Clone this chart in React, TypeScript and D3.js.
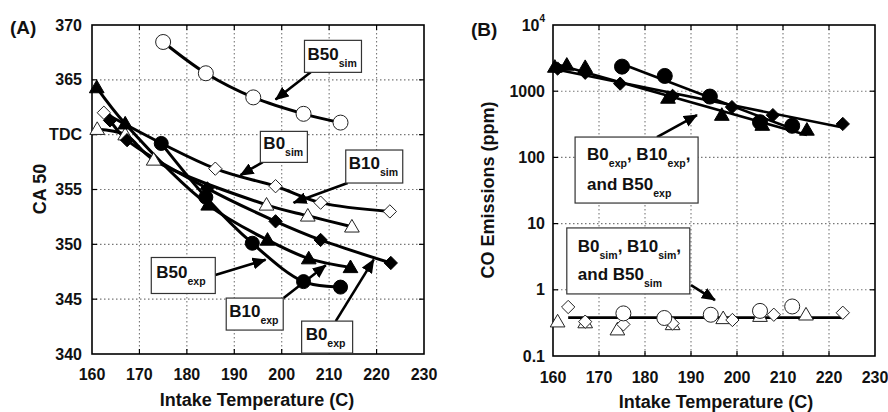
import React from "react";
import * as d3 from "d3";

// ---------- ticks ----------
const xTicks = [160, 170, 180, 190, 200, 210, 220, 230];
const yTicksA = [340, 345, 350, 355, 360, 365, 370];
const yTickLabelsA = ["340", "345", "350", "355", "TDC", "365", "370"];
const yTicksB = [0.1, 1, 10, 100, 1000, 10000];
const yTickLabelsB = ["0.1", "1", "10", "100", "1000", "10|4"];

// ---------- Panel A : CA50 ----------
const tA_B50sim = [175, 184, 194, 204.6, 212.4];
const vA_B50sim = [368.45, 365.6, 363.4, 361.9, 361.1];
const tA_B0sim = [162.5, 186, 198.7, 208.2, 222.8];
const vA_B0sim = [362.0, 356.9, 355.3, 353.8, 353.0];
const tA_B10sim = [161.1, 167, 173, 196.8, 205.5, 214.8];
const vA_B10sim = [360.5, 360.0, 357.7, 353.6, 352.6, 351.6];
const tA_B0exp = [163.8, 167.4, 184.3, 198.7, 208.2, 223];
const vA_B0exp = [361.3, 359.5, 355.1, 352.1, 350.4, 348.3];
const tA_B10exp = [161, 167, 184.5, 197, 205.7, 214.5];
const vA_B10exp = [364.3, 361.0, 353.6, 350.4, 348.7, 347.9];
const tA_B50exp = [174.6, 184, 193.8, 204.6, 212.4];
const vA_B50exp = [359.2, 354.3, 350.1, 346.6, 346.1];

// ---------- Panel B : CO emissions ----------
const tB_B50exp = [175, 184.3, 194.1, 205, 212];
const vB_B50exp = [2350, 1700, 830, 340, 300];
const tB_B0exp = [161, 167, 174.6, 186, 198.9, 207.8, 223];
const vB_B0exp = [2200, 1900, 1300, 850, 575, 435, 320];
const tB_B10exp = [160.4, 163, 167, 185, 196.7, 205.5, 215.2];
const vB_B10exp = [2320, 2490, 2300, 790, 436, 308, 260];
const tB_B50sim = [175.3, 184.2, 194.3, 205, 212];
const vB_B50sim = [0.44, 0.375, 0.42, 0.48, 0.56];
const tB_B0sim = [163.3, 167, 175.3, 186, 199, 208, 223];
const vB_B0sim = [0.55, 0.33, 0.3, 0.31, 0.35, 0.42, 0.45];
const tB_B10sim = [161, 167, 174, 186, 197, 205, 215];
const vB_B10sim = [0.33, 0.32, 0.25, 0.3, 0.37, 0.4, 0.42];

type Shape = "circle" | "diamond" | "triangle";
type Series = { t: number[]; v: number[]; shape: Shape; filled: boolean };

const seriesA: Series[] = [
  { t: tA_B50sim, v: vA_B50sim, shape: "circle", filled: false },
  { t: tA_B0sim, v: vA_B0sim, shape: "diamond", filled: false },
  { t: tA_B10sim, v: vA_B10sim, shape: "triangle", filled: false },
  { t: tA_B0exp, v: vA_B0exp, shape: "diamond", filled: true },
  { t: tA_B10exp, v: vA_B10exp, shape: "triangle", filled: true },
  { t: tA_B50exp, v: vA_B50exp, shape: "circle", filled: true },
];
const seriesBexp: Series[] = [
  { t: tB_B50exp, v: vB_B50exp, shape: "circle", filled: true },
  { t: tB_B0exp, v: vB_B0exp, shape: "diamond", filled: true },
  { t: tB_B10exp, v: vB_B10exp, shape: "triangle", filled: true },
];
const seriesBsim: Series[] = [
  { t: tB_B10sim, v: vB_B10sim, shape: "triangle", filled: false },
  { t: tB_B0sim, v: vB_B0sim, shape: "diamond", filled: false },
  { t: tB_B50sim, v: vB_B50sim, shape: "circle", filled: false },
];

// ---------- annotations (data coordinates) ----------
type Seg = { t: string; sub?: boolean };
type Note = {
  x: number; y: number; w: number; h: number;
  lines: Seg[][]; from: [number, number]; to: [number, number];
  base: number; lineGap: number; pad: number;
};
const notesA: Note[] = [
  { x: 204.8, y: 368.6, w: 57, h: 32, lines: [[{ t: "B50" }, { t: "sim", sub: true }]], from: [206.1, 365.7], to: [198.7, 363.2], base: 20, lineGap: 0, pad: 3 },
  { x: 195.5, y: 360.3, w: 47, h: 31, lines: [[{ t: "B0" }, { t: "sim", sub: true }]], from: [196, 357.5], to: [191.3, 356.3], base: 18, lineGap: 0, pad: 3 },
  { x: 213.5, y: 358.6, w: 57, h: 33, lines: [[{ t: "B10" }, { t: "sim", sub: true }]], from: [213.9, 355.6], to: [202.5, 353.8], base: 19, lineGap: 0, pad: 3 },
  { x: 172.5, y: 348.8, w: 64, h: 36, lines: [[{ t: "B50" }, { t: "exp", sub: true }]], from: [186, 347.2], to: [196.6, 348.6], base: 21, lineGap: 0, pad: 5 },
  { x: 188.3, y: 345.1, w: 57, h: 32, lines: [[{ t: "B10" }, { t: "exp", sub: true }]], from: [200.4, 345.1], to: [209.3, 348.1], base: 19, lineGap: 0, pad: 3 },
  { x: 204.2, y: 343.0, w: 51, h: 32, lines: [[{ t: "B0" }, { t: "exp", sub: true }]], from: [211.4, 343.0], to: [219.4, 348.6], base: 19, lineGap: 0, pad: 4 },
];
const notesB: Note[] = [
  {
    x: 164.8, y: 203, w: 123, h: 66,
    lines: [
      [{ t: "B0" }, { t: "exp", sub: true }, { t: ", B10" }, { t: "exp", sub: true }, { t: "," }],
      [{ t: "and B50" }, { t: "exp", sub: true }],
    ],
    from: [182.6, 203], to: [191.3, 436], base: 23, lineGap: 30, pad: 12,
  },
  {
    x: 163.0, y: 8.6, w: 123, h: 66,
    lines: [
      [{ t: "B0" }, { t: "sim", sub: true }, { t: ", B10" }, { t: "sim", sub: true }, { t: "," }],
      [{ t: "and B50" }, { t: "sim", sub: true }],
    ],
    from: [190, 1.18], to: [195.2, 0.7], base: 24, lineGap: 28, pad: 11,
  },
];

const FONT = "'Liberation Sans', Arial, Helvetica, sans-serif";

function markerPath(shape: Shape, s: number): string {
  if (shape === "circle") return "";
  if (shape === "diamond") return `M0,${-s} L${s},0 L0,${s} L${-s},0 Z`;
  return `M0,${-s * 1.05} L${s * 1.05},${s * 0.75} L${-s * 1.05},${s * 0.75} Z`;
}

function Marker({ x, y, shape, filled, r }: { x: number; y: number; shape: Shape; filled: boolean; r: number }) {
  const fill = filled ? "#000" : "#fff";
  const stroke = filled ? "#000" : "#222";
  if (shape === "circle")
    return <circle cx={x} cy={y} r={r} fill={fill} stroke={stroke} strokeWidth={1} />;
  return <path transform={`translate(${x},${y})`} d={markerPath(shape, shape === "diamond" ? r * 0.95 : r)} fill={fill} stroke={stroke} strokeWidth={1} strokeLinejoin="miter" />;
}

function fitLog(t: number[], v: number[]) {
  const ly = v.map((d) => Math.log10(d));
  const mx = d3.mean(t)!;
  const my = d3.mean(ly)!;
  let num = 0, den = 0;
  t.forEach((x, i) => { num += (x - mx) * (ly[i] - my); den += (x - mx) * (x - mx); });
  const b = num / den;
  return (x: number) => Math.pow(10, my + b * (x - mx));
}

function NoteBox({ n, xs, ys }: { n: Note; xs: (d: number) => number; ys: (d: number) => number }) {
  const bx = xs(n.x), by = ys(n.y);
  return (
    <g>
      <line x1={xs(n.from[0])} y1={ys(n.from[1])} x2={xs(n.to[0])} y2={ys(n.to[1])} stroke="#000" strokeWidth={2.6} markerEnd="url(#arrow)" />
      <rect x={bx} y={by} width={n.w} height={n.h} fill="#fff" stroke="#333" strokeWidth={1.2} />
      {n.lines.map((segs, li) => (
        <text key={li} x={bx + n.pad} y={by + n.base + li * n.lineGap} fontFamily={FONT} fontWeight="bold" fontSize={17} fill="#111">
          {segs.map((s, si) =>
            s.sub ? (
              <tspan key={si} fontSize={10.5} dy={7}>{s.t}</tspan>
            ) : (
              <tspan key={si} fontSize={17} dy={si > 0 && segs[si - 1].sub ? -7 : 0}>{s.t}</tspan>
            )
          )}
        </text>
      ))}
    </g>
  );
}

function Frame({ x0, x1, y0, y1, xs, ys, yTicks }: any) {
  const tick = 5;
  return (
    <g>
      {xTicks.slice(1, -1).map((t) => (
        <line key={"gx" + t} x1={xs(t)} x2={xs(t)} y1={y0} y2={y1} stroke="#777" strokeWidth={1.1} strokeDasharray="1.5,2.5" />
      ))}
      {yTicks.slice(1, -1).map((t: number) => (
        <line key={"gy" + t} x1={x0} x2={x1} y1={ys(t)} y2={ys(t)} stroke="#777" strokeWidth={1.1} strokeDasharray="1.5,2.5" />
      ))}
      {xTicks.slice(1, -1).map((t) => (
        <g key={"tx" + t}>
          <line x1={xs(t)} x2={xs(t)} y1={y1} y2={y1 - tick} stroke="#000" strokeWidth={1.2} />
          <line x1={xs(t)} x2={xs(t)} y1={y0} y2={y0 + tick} stroke="#000" strokeWidth={1.2} />
        </g>
      ))}
      {yTicks.slice(1, -1).map((t: number) => (
        <g key={"ty" + t}>
          <line x1={x0} x2={x0 + tick} y1={ys(t)} y2={ys(t)} stroke="#000" strokeWidth={1.2} />
          <line x1={x1} x2={x1 - tick} y1={ys(t)} y2={ys(t)} stroke="#000" strokeWidth={1.2} />
        </g>
      ))}
      <rect x={x0} y={y0} width={x1 - x0} height={y1 - y0} fill="none" stroke="#000" strokeWidth={1.6} />
    </g>
  );
}

export default function App() {
  // Panel A scales
  const xA = d3.scaleLinear().domain([160, 230]).range([92, 424]);
  const yA = d3.scaleLinear().domain([340, 370]).range([354, 25]);
  // Panel B scales
  const xB = d3.scaleLinear().domain([160, 230]).range([553, 875]);
  const yB = d3.scaleLog().domain([0.1, 10000]).range([356, 25]);

  const lineA = (s: Series) =>
    d3.line<number>().x((d) => xA(d)).y((_, i) => yA(s.v[i])).curve(d3.curveCatmullRom.alpha(0.5))(s.t) || "";

  const simT = [...tB_B10sim, ...tB_B0sim, ...tB_B50sim];
  const simV = [...vB_B10sim, ...vB_B0sim, ...vB_B50sim];
  const simLevel = Math.pow(10, d3.mean(simV.map((d) => Math.log10(d)))!);
  const simRange = [d3.min(tB_B0sim)!, d3.max(simT)!];

  const tickFont = { fontFamily: FONT, fontWeight: "bold" as const, fontSize: 16, fill: "#111" };
  const titleFont = { fontFamily: FONT, fontWeight: "bold" as const, fontSize: 18, fill: "#111" };

  return (
    <svg width={888} height={412} style={{ position: "absolute", left: 0, top: 0, background: "#fff" }}>
      <defs>
        <marker id="arrow" markerUnits="userSpaceOnUse" markerWidth={14} markerHeight={12} refX={13} refY={6} orient="auto">
          <path d="M0,0 L14,6 L0,12 Z" fill="#000" />
        </marker>
      </defs>
      <rect x={0} y={0} width={888} height={412} fill="#fff" />

      {/* ===== Panel A ===== */}
      <Frame x0={92} x1={424} y0={25} y1={354} xs={xA} ys={yA} yTicks={yTicksA} />
      {seriesA.map((s, i) => (
        <path key={"la" + i} d={lineA(s)} fill="none" stroke="#000" strokeWidth={3} />
      ))}
      {seriesA.map((s, i) =>
        s.t.map((t, j) => (
          <Marker key={`ma${i}-${j}`} x={xA(t)} y={yA(s.v[j])} shape={s.shape} filled={s.filled} r={s.shape === "circle" ? (s.filled ? 7 : 7.5) : 7} />
        ))
      )}
      {notesA.map((n, i) => <NoteBox key={"na" + i} n={n} xs={xA} ys={yA} />)}

      {yTicksA.map((t, i) => (
        <text key={"yla" + t} x={82} y={yA(t)} textAnchor="end" dominantBaseline="central" {...tickFont}>{yTickLabelsA[i]}</text>
      ))}
      {xTicks.map((t) => (
        <text key={"xla" + t} x={xA(t)} y={374} textAnchor="middle" dominantBaseline="central" {...tickFont}>{t}</text>
      ))}
      <text x={257} y={400} textAnchor="middle" dominantBaseline="central" {...titleFont}>Intake Temperature (C)</text>
      <text transform={`translate(40,189) rotate(-90)`} textAnchor="middle" dominantBaseline="central" {...titleFont}>CA 50</text>
      <text x={10} y={27} dominantBaseline="central" fontFamily={FONT} fontWeight="bold" fontSize={19} fill="#111">(A)</text>

      {/* ===== Panel B ===== */}
      <Frame x0={553} x1={875} y0={25} y1={356} xs={xB} ys={yB} yTicks={yTicksB} />
      {seriesBexp.map((s, i) => {
        const f = fitLog(s.t, s.v);
        const t0 = d3.min(s.t)!, t1 = d3.max(s.t)!;
        return <line key={"lb" + i} x1={xB(t0)} y1={yB(f(t0))} x2={xB(t1)} y2={yB(f(t1))} stroke="#000" strokeWidth={2.6} />;
      })}
      <line x1={xB(simRange[0])} y1={yB(simLevel)} x2={xB(simRange[1])} y2={yB(simLevel)} stroke="#000" strokeWidth={2.6} />
      {[...seriesBexp, ...seriesBsim].map((s, i) =>
        s.t.map((t, j) => (
          <Marker key={`mb${i}-${j}`} x={xB(t)} y={yB(s.v[j])} shape={s.shape} filled={s.filled} r={s.shape === "circle" ? 7.5 : 7} />
        ))
      )}
      {notesB.map((n, i) => <NoteBox key={"nb" + i} n={n} xs={xB} ys={yB} />)}

      {yTicksB.map((t, i) => {
        const lab = yTickLabelsB[i];
        if (lab.includes("|")) {
          const [b, e] = lab.split("|");
          return (
            <text key={"ylb" + t} x={545} y={yB(t)} textAnchor="end" dominantBaseline="central" {...tickFont}>
              {b}
              <tspan fontSize={10} dy={-7}>{e}</tspan>
            </text>
          );
        }
        return <text key={"ylb" + t} x={545} y={yB(t)} textAnchor="end" dominantBaseline="central" {...tickFont}>{lab}</text>;
      })}
      {xTicks.map((t) => (
        <text key={"xlb" + t} x={xB(t)} y={377} textAnchor="middle" dominantBaseline="central" {...tickFont}>{t}</text>
      ))}
      <text x={716} y={402} textAnchor="middle" dominantBaseline="central" {...titleFont}>Intake Temperature (C)</text>
      <text transform={`translate(488,190) rotate(-90)`} textAnchor="middle" dominantBaseline="central" {...titleFont}>CO Emissions (ppm)</text>
      <text x={471} y={29} dominantBaseline="central" fontFamily={FONT} fontWeight="bold" fontSize={19} fill="#111">(B)</text>
    </svg>
  );
}
